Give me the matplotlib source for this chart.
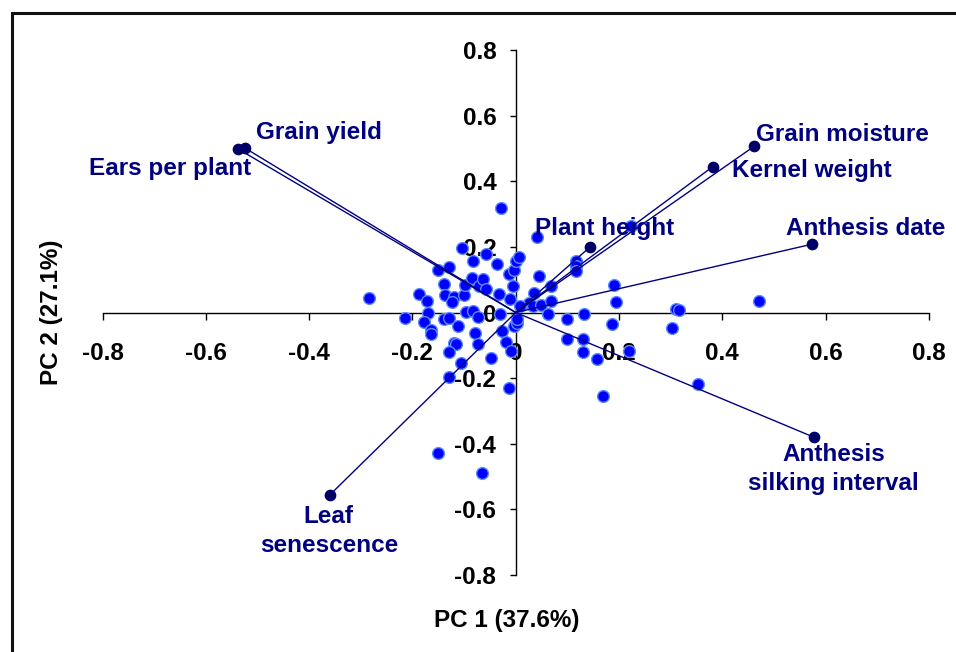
import matplotlib
matplotlib.use("Agg")
import matplotlib.pyplot as plt
from matplotlib.patches import Rectangle

# ---- data ----
loading_names = ["Grain yield", "Ears per plant", "Grain moisture", "Kernel weight",
                 "Plant height", "Anthesis date", "Anthesis\nsilking interval",
                 "Leaf\nsenescence"]
loading_x = [-0.525, -0.537, 0.462, 0.381, 0.144, 0.573, 0.577, -0.360]
loading_y = [0.502, 0.498, 0.507, 0.444, 0.200, 0.208, -0.380, -0.556]

score_x = [-0.285, -0.188, -0.171, -0.138, -0.151, -0.129, -0.136, -0.119, -0.123, -0.100,
           -0.098, -0.085, -0.072, -0.063, -0.057, -0.104, -0.082, -0.058, -0.037, -0.033,
           -0.011, -0.005, -0.014, -0.003, 0.000, 0.007, -0.029, 0.041, 0.223, 0.045,
           0.068, 0.117, 0.117, 0.117, 0.036, 0.026, 0.033, 0.009, 0.049, 0.068,
           0.191, 0.194, 0.310, 0.316, 0.471,
           -0.214, -0.169, -0.178, -0.164, -0.164, -0.138, -0.129, -0.111, -0.096, -0.082,
           -0.074, -0.078, -0.074, -0.119, -0.116, -0.130, -0.106, -0.048, -0.130, -0.013,
           -0.031, -0.026, -0.019, -0.009, -0.003, 0.002, 0.003, 0.063, 0.100, 0.133,
           0.187, 0.303, 0.100, 0.131, 0.131, 0.158, 0.220, 0.168, 0.353, -0.151, -0.065]
score_y = [0.043, 0.055, 0.034, 0.088, 0.131, 0.139, 0.052, 0.048, 0.033, 0.052,
           0.085, 0.106, 0.082, 0.101, 0.072, 0.197, 0.156, 0.177, 0.148, 0.055,
           0.042, 0.082, 0.116, 0.129, 0.156, 0.170, 0.319, 0.231, 0.263, 0.111,
           0.082, 0.156, 0.141, 0.126, 0.060, 0.030, 0.019, 0.019, 0.024, 0.034,
           0.085, 0.031, 0.011, 0.009, 0.034,
           -0.016, -0.001, -0.030, -0.052, -0.067, -0.019, -0.016, -0.042, 0.001, 0.004,
           -0.013, -0.062, -0.095, -0.092, -0.097, -0.121, -0.155, -0.140, -0.196, -0.229,
           -0.006, -0.057, -0.089, -0.118, -0.042, -0.031, -0.021, -0.006, -0.019, -0.006,
           -0.034, -0.047, -0.082, -0.082, -0.121, -0.143, -0.118, -0.255, -0.217, -0.427, -0.488]

ticks = [-0.8, -0.6, -0.4, -0.2, 0, 0.2, 0.4, 0.6, 0.8]
tick_labels = ["-0.8", "-0.6", "-0.4", "-0.2", "0", "0.2", "0.4", "0.6", "0.8"]
xlabel = "PC 1 (37.6%)"
ylabel = "PC 2 (27.1%)"

# ---- styling ----
plt.rcParams['font.family'] = ['Liberation Sans', 'DejaVu Sans']
plt.rcParams['font.weight'] = 'bold'
W, H = 956, 652
fig = plt.figure(figsize=(W / 100, H / 100), dpi=100)
navy = "#000080"

# outer frame (only left and top edges fall inside the image)
fig.patches.append(Rectangle((12 / W, -0.3), 1.5, 1.3 - 13 / H, transform=fig.transFigure,
                             fill=False, edgecolor="#111111", linewidth=2.2, zorder=0))

ax = fig.add_axes([102.5 / W, 1 - 575 / H, (929 - 102.5) / W, (575 - 50) / H])
ax.set_xlim(-0.8, 0.8)
ax.set_ylim(-0.8, 0.8)
ax.patch.set_visible(False)
for s in ["top", "right"]:
    ax.spines[s].set_visible(False)
ax.spines["left"].set_position("zero")
ax.spines["bottom"].set_position("zero")
for s in ["left", "bottom"]:
    ax.spines[s].set_linewidth(1.0)
    ax.spines[s].set_color("black")

ax.set_xticks(ticks)
ax.set_xticklabels(tick_labels)
ax.set_yticks(ticks)
ax.set_yticklabels(tick_labels)
ax.tick_params(axis="x", direction="out", length=5, width=1, pad=16.5, labelsize=17.5)
ax.tick_params(axis="y", direction="out", length=4.5, width=1, pad=9.5, labelsize=17.5)
for lab in ax.get_xticklabels() + ax.get_yticklabels():
    lab.set_fontweight("bold")
    lab.set_zorder(6)

# scores
ax.scatter(score_x, score_y, s=72, color="#0000FF", edgecolors="#5a8cff",
           linewidths=1.0, zorder=3, clip_on=False)

# loading vectors
for lx, ly in zip(loading_x, loading_y):
    ax.plot([0, lx], [0, ly], color=navy, linewidth=1.0, zorder=4)
ax.scatter(loading_x, loading_y, s=55, color="#000066", edgecolors="#000066",
           zorder=5, clip_on=False)

# labels for loadings (offsets in pixels)
offsets = {
    "Grain yield": (11, 15, "left"),
    "Ears per plant": (13, -19, "right"),
    "Grain moisture": (2, 12, "left"),
    "Kernel weight": (19, -3.5, "left"),
    "Plant height": (14, 18, "center"),
    "Anthesis date": (54, 16, "center"),
    "Anthesis\nsilking interval": (20, -31.5, "center"),
    "Leaf\nsenescence": (-1, -36, "center"),
}
for name, lx, ly in zip(loading_names, loading_x, loading_y):
    dx, dy, ha = offsets[name]
    ax.annotate(name, (lx, ly), xytext=(dx, dy), textcoords="offset pixels",
                ha=ha, va="center", ma="center", color=navy, fontsize=17.5,
                fontweight="bold", linespacing=1.35, zorder=7)

fig.text(507 / W, 1 - 621 / H, xlabel, ha="center", va="center", fontsize=17.5,
         fontweight="bold", color="black")
fig.text(52 / W, 1 - 312 / H, ylabel, ha="center", va="center", rotation=90,
         fontsize=17.5, fontweight="bold", color="black")

fig.savefig("out.png", dpi=100)
